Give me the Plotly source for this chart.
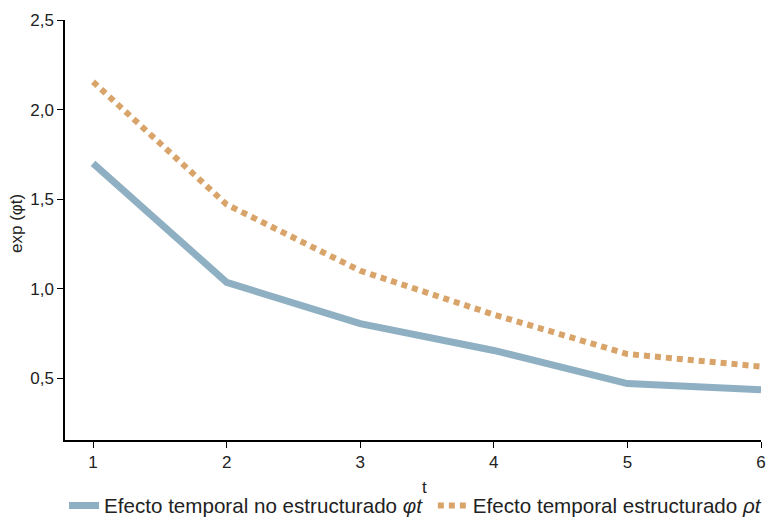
import plotly.graph_objects as go

t = [1, 2, 3, 4, 5, 6]
no_estructurado = [1.70, 1.035, 0.805, 0.655, 0.47, 0.435]
estructurado = [2.155, 1.47, 1.10, 0.855, 0.635, 0.565]
y_ticks = [0.5, 1.0, 1.5, 2.0, 2.5]

names = ["Efecto temporal no estructurado <i>φt</i>",
         "Efecto temporal estructurado <i>ρt</i>"]
colors = ["#8fafc2", "#d9a46a"]

fig = go.Figure()
fig.add_trace(go.Scatter(x=t, y=no_estructurado, mode="lines", name=names[0],
                         line=dict(color=colors[0], width=7), legend="legend"))
fig.add_trace(go.Scatter(x=t, y=estructurado, mode="lines", name=names[1],
                         line=dict(color=colors[1], width=6, dash="6px,5px"), legend="legend2"))

axis_common = dict(showline=True, linecolor="black", linewidth=1.5, ticks="outside",
                   ticklen=6, tickcolor="black", tickwidth=1.2, showgrid=False,
                   zeroline=False, automargin=False, ticklabeloverflow="allow",
                   tickfont=dict(size=17, color="#222"))
fig.update_xaxes(range=[0.79, 6.0], tickvals=t, **axis_common)
fig.update_yaxes(range=[0.155, 2.5], tickvals=y_ticks, tickformat=".1f", **axis_common)

fig.add_annotation(text="t", xref="paper", yref="paper", x=0.517, y=-0.1137,
                   xanchor="center", yanchor="middle", showarrow=False,
                   font=dict(size=17, color="#222"))
fig.add_annotation(text="exp (φt)", xref="paper", yref="paper", x=-0.0705, y=0.5166,
                   xanchor="center", yanchor="middle", showarrow=False, textangle=-90,
                   font=dict(size=17, color="#222"))

leg = dict(orientation="h", yanchor="middle", y=-0.156, xanchor="left",
           font=dict(size=20.6, color="#222"), itemwidth=30, borderwidth=0,
           bgcolor="rgba(0,0,0,0)")
fig.update_layout(
    width=772, height=530,
    margin=dict(l=65, r=5, t=20, b=88),
    plot_bgcolor="white", paper_bgcolor="white",
    separators=",.",
    font=dict(family="Liberation Sans, Arial, sans-serif", color="#222"),
    legend=dict(x=-0.0014, **leg),
    legend2=dict(x=0.5285, **leg),
    showlegend=True,
)
fig.write_html("out.html", config={"displayModeBar": False},
               post_script="document.body.style.margin='0';document.body.style.overflow='hidden';")
